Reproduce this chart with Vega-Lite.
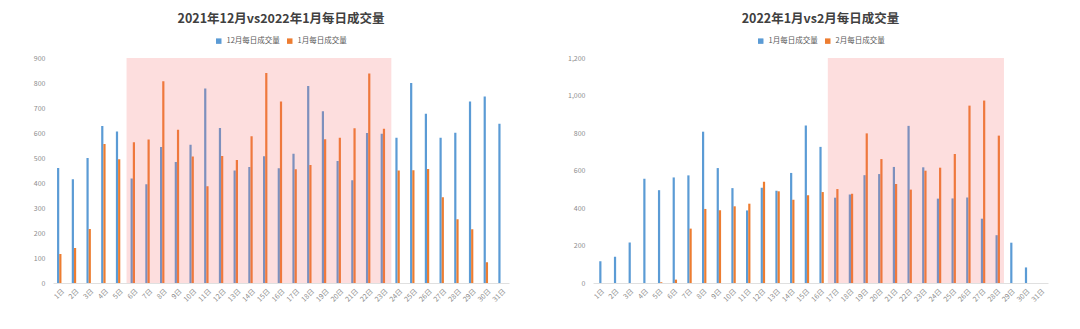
{
  "$schema": "https://vega.github.io/schema/vega-lite/v6.json",
  "background": "white",
  "padding": {"left": 33, "top": 12, "right": 5, "bottom": 5},
  "bounds": "flush",
  "spacing": 84,
  "config": {
    "font": "Noto Sans CJK SC",
    "view": {"stroke": null},
    "axis": {"labelColor": "#8c8c8c", "labelFontSize": 7, "ticks": false, "grid": false, "domain": false},
    "axisX": {"domain": true, "domainColor": "#e0e0e0", "labelAngle": -45, "labelPadding": 4},
    "axisY": {"labelPadding": 8},
    "title": {"fontSize": 12.5, "fontWeight": "bold", "color": "#404040", "offset": 12, "anchor": "middle"},
    "legend": {"orient": "top", "direction": "horizontal", "labelFontSize": 7.5, "labelColor": "#595959", "symbolType": "square", "symbolSize": 30, "symbolStrokeWidth": 0, "columnPadding": 6, "offset": 13, "layout": {"top": {"anchor": "middle"}}}
  },
  "resolve": {"scale": {"color": "independent", "x": "independent", "y": "independent"}, "legend": {"color": "independent"}},
  "datasets": {
    "decjan": [
      {"day": 1, "series": "12月每日成交量", "value": 460}, {"day": 2, "series": "12月每日成交量", "value": 415}, {"day": 3, "series": "12月每日成交量", "value": 500}, {"day": 4, "series": "12月每日成交量", "value": 628}, {"day": 5, "series": "12月每日成交量", "value": 606}, {"day": 6, "series": "12月每日成交量", "value": 418}, {"day": 7, "series": "12月每日成交量", "value": 395}, {"day": 8, "series": "12月每日成交量", "value": 544}, {"day": 9, "series": "12月每日成交量", "value": 484}, {"day": 10, "series": "12月每日成交量", "value": 553}, {"day": 11, "series": "12月每日成交量", "value": 778}, {"day": 12, "series": "12月每日成交量", "value": 620}, {"day": 13, "series": "12月每日成交量", "value": 450}, {"day": 14, "series": "12月每日成交量", "value": 464}, {"day": 15, "series": "12月每日成交量", "value": 507}, {"day": 16, "series": "12月每日成交量", "value": 459}, {"day": 17, "series": "12月每日成交量", "value": 517}, {"day": 18, "series": "12月每日成交量", "value": 788}, {"day": 19, "series": "12月每日成交量", "value": 687}, {"day": 20, "series": "12月每日成交量", "value": 488}, {"day": 21, "series": "12月每日成交量", "value": 411}, {"day": 22, "series": "12月每日成交量", "value": 600}, {"day": 23, "series": "12月每日成交量", "value": 597}, {"day": 24, "series": "12月每日成交量", "value": 581}, {"day": 25, "series": "12月每日成交量", "value": 800}, {"day": 26, "series": "12月每日成交量", "value": 677}, {"day": 27, "series": "12月每日成交量", "value": 581}, {"day": 28, "series": "12月每日成交量", "value": 601}, {"day": 29, "series": "12月每日成交量", "value": 726}, {"day": 30, "series": "12月每日成交量", "value": 746}, {"day": 31, "series": "12月每日成交量", "value": 637},
      {"day": 1, "series": "1月每日成交量", "value": 116}, {"day": 2, "series": "1月每日成交量", "value": 140}, {"day": 3, "series": "1月每日成交量", "value": 216}, {"day": 4, "series": "1月每日成交量", "value": 556}, {"day": 5, "series": "1月每日成交量", "value": 495}, {"day": 6, "series": "1月每日成交量", "value": 563}, {"day": 7, "series": "1月每日成交量", "value": 574}, {"day": 8, "series": "1月每日成交量", "value": 807}, {"day": 9, "series": "1月每日成交量", "value": 613}, {"day": 10, "series": "1月每日成交量", "value": 506}, {"day": 11, "series": "1月每日成交量", "value": 387}, {"day": 12, "series": "1月每日成交量", "value": 508}, {"day": 13, "series": "1月每日成交量", "value": 492}, {"day": 14, "series": "1月每日成交量", "value": 587}, {"day": 15, "series": "1月每日成交量", "value": 840}, {"day": 16, "series": "1月每日成交量", "value": 726}, {"day": 17, "series": "1月每日成交量", "value": 455}, {"day": 18, "series": "1月每日成交量", "value": 472}, {"day": 19, "series": "1月每日成交量", "value": 575}, {"day": 20, "series": "1月每日成交量", "value": 581}, {"day": 21, "series": "1月每日成交量", "value": 619}, {"day": 22, "series": "1月每日成交量", "value": 838}, {"day": 23, "series": "1月每日成交量", "value": 617}, {"day": 24, "series": "1月每日成交量", "value": 450}, {"day": 25, "series": "1月每日成交量", "value": 451}, {"day": 26, "series": "1月每日成交量", "value": 456}, {"day": 27, "series": "1月每日成交量", "value": 343}, {"day": 28, "series": "1月每日成交量", "value": 255}, {"day": 29, "series": "1月每日成交量", "value": 215}, {"day": 30, "series": "1月每日成交量", "value": 83}
    ],
    "janfeb": [
      {"day": 1, "series": "1月每日成交量", "value": 116}, {"day": 2, "series": "1月每日成交量", "value": 140}, {"day": 3, "series": "1月每日成交量", "value": 216}, {"day": 4, "series": "1月每日成交量", "value": 556}, {"day": 5, "series": "1月每日成交量", "value": 495}, {"day": 6, "series": "1月每日成交量", "value": 563}, {"day": 7, "series": "1月每日成交量", "value": 574}, {"day": 8, "series": "1月每日成交量", "value": 807}, {"day": 9, "series": "1月每日成交量", "value": 613}, {"day": 10, "series": "1月每日成交量", "value": 506}, {"day": 11, "series": "1月每日成交量", "value": 387}, {"day": 12, "series": "1月每日成交量", "value": 508}, {"day": 13, "series": "1月每日成交量", "value": 492}, {"day": 14, "series": "1月每日成交量", "value": 587}, {"day": 15, "series": "1月每日成交量", "value": 840}, {"day": 16, "series": "1月每日成交量", "value": 726}, {"day": 17, "series": "1月每日成交量", "value": 455}, {"day": 18, "series": "1月每日成交量", "value": 472}, {"day": 19, "series": "1月每日成交量", "value": 575}, {"day": 20, "series": "1月每日成交量", "value": 581}, {"day": 21, "series": "1月每日成交量", "value": 619}, {"day": 22, "series": "1月每日成交量", "value": 838}, {"day": 23, "series": "1月每日成交量", "value": 617}, {"day": 24, "series": "1月每日成交量", "value": 450}, {"day": 25, "series": "1月每日成交量", "value": 451}, {"day": 26, "series": "1月每日成交量", "value": 456}, {"day": 27, "series": "1月每日成交量", "value": 343}, {"day": 28, "series": "1月每日成交量", "value": 255}, {"day": 29, "series": "1月每日成交量", "value": 215}, {"day": 30, "series": "1月每日成交量", "value": 83}, {"day": 31, "series": "1月每日成交量", "value": 0},
      {"day": 5, "series": "2月每日成交量", "value": 4}, {"day": 6, "series": "2月每日成交量", "value": 18}, {"day": 7, "series": "2月每日成交量", "value": 290}, {"day": 8, "series": "2月每日成交量", "value": 395}, {"day": 9, "series": "2月每日成交量", "value": 388}, {"day": 10, "series": "2月每日成交量", "value": 409}, {"day": 11, "series": "2月每日成交量", "value": 423}, {"day": 12, "series": "2月每日成交量", "value": 540}, {"day": 13, "series": "2月每日成交量", "value": 489}, {"day": 14, "series": "2月每日成交量", "value": 444}, {"day": 15, "series": "2月每日成交量", "value": 468}, {"day": 16, "series": "2月每日成交量", "value": 485}, {"day": 17, "series": "2月每日成交量", "value": 501}, {"day": 18, "series": "2月每日成交量", "value": 476}, {"day": 19, "series": "2月每日成交量", "value": 798}, {"day": 20, "series": "2月每日成交量", "value": 661}, {"day": 21, "series": "2月每日成交量", "value": 528}, {"day": 22, "series": "2月每日成交量", "value": 498}, {"day": 23, "series": "2月每日成交量", "value": 599}, {"day": 24, "series": "2月每日成交量", "value": 615}, {"day": 25, "series": "2月每日成交量", "value": 688}, {"day": 26, "series": "2月每日成交量", "value": 946}, {"day": 27, "series": "2月每日成交量", "value": 973}, {"day": 28, "series": "2月每日成交量", "value": 786}
    ]
  },
  "hconcat": [
    {
      "width": 456,
      "height": 225,
      "title": {"text": "2021年12月vs2022年1月每日成交量"},
      "layer": [
        {
          "data": {"name": "decjan"},
          "mark": {"type": "bar"},
          "encoding": {
            "x": {"field": "day", "type": "ordinal", "scale": {"paddingInner": 0.55, "paddingOuter": 0.275}, "axis": {"labelExpr": "datum.value + '日'", "title": null}},
            "xOffset": {"field": "series", "sort": ["12月每日成交量", "1月每日成交量"]},
            "y": {"field": "value", "type": "quantitative", "scale": {"domain": [0, 900]}, "axis": {"values": [0, 100, 200, 300, 400, 500, 600, 700, 800, 900], "title": null}},
            "color": {"field": "series", "type": "nominal", "sort": ["12月每日成交量", "1月每日成交量"], "scale": {"domain": ["12月每日成交量", "1月每日成交量"], "range": ["#5b9bd5", "#ed7d31"]}, "legend": {"title": null}}
          }
        },
        {
          "data": {"values": [{"from": 5.5, "to": 23.5, "top": 900}]},
          "mark": {"type": "rect", "color": "#f76b6b", "opacity": 0.22},
          "encoding": {
            "x": {"field": "from", "type": "quantitative", "scale": {"domain": [0.5, 31.5], "nice": false, "zero": false}, "axis": null},
            "x2": {"field": "to"},
            "y": {"field": "top", "type": "quantitative", "axis": {"values": [0, 100, 200, 300, 400, 500, 600, 700, 800, 900], "title": null}},
            "y2": {"datum": 0}
          }
        }
      ],
      "resolve": {"scale": {"x": "independent"}, "axis": {"x": "independent"}}
    },
    {
      "width": 455,
      "height": 225,
      "title": {"text": "2022年1月vs2月每日成交量"},
      "layer": [
        {
          "data": {"name": "janfeb"},
          "mark": {"type": "bar"},
          "encoding": {
            "x": {"field": "day", "type": "ordinal", "scale": {"paddingInner": 0.55, "paddingOuter": 0.275}, "axis": {"labelExpr": "datum.value + '日'", "title": null}},
            "xOffset": {"field": "series", "sort": ["1月每日成交量", "2月每日成交量"]},
            "y": {"field": "value", "type": "quantitative", "scale": {"domain": [0, 1200]}, "axis": {"values": [0, 200, 400, 600, 800, 1000, 1200], "labelExpr": "format(datum.value, ',')", "title": null}},
            "color": {"field": "series", "type": "nominal", "sort": ["1月每日成交量", "2月每日成交量"], "scale": {"domain": ["1月每日成交量", "2月每日成交量"], "range": ["#5b9bd5", "#ed7d31"]}, "legend": {"title": null}}
          }
        },
        {
          "data": {"values": [{"from": 16.5, "to": 28.5, "top": 1200}]},
          "mark": {"type": "rect", "color": "#f76b6b", "opacity": 0.22},
          "encoding": {
            "x": {"field": "from", "type": "quantitative", "scale": {"domain": [0.5, 31.5], "nice": false, "zero": false}, "axis": null},
            "x2": {"field": "to"},
            "y": {"field": "top", "type": "quantitative", "axis": {"values": [0, 200, 400, 600, 800, 1000, 1200], "labelExpr": "format(datum.value, ',')", "title": null}},
            "y2": {"datum": 0}
          }
        }
      ],
      "resolve": {"scale": {"x": "independent"}, "axis": {"x": "independent"}}
    }
  ]
}
